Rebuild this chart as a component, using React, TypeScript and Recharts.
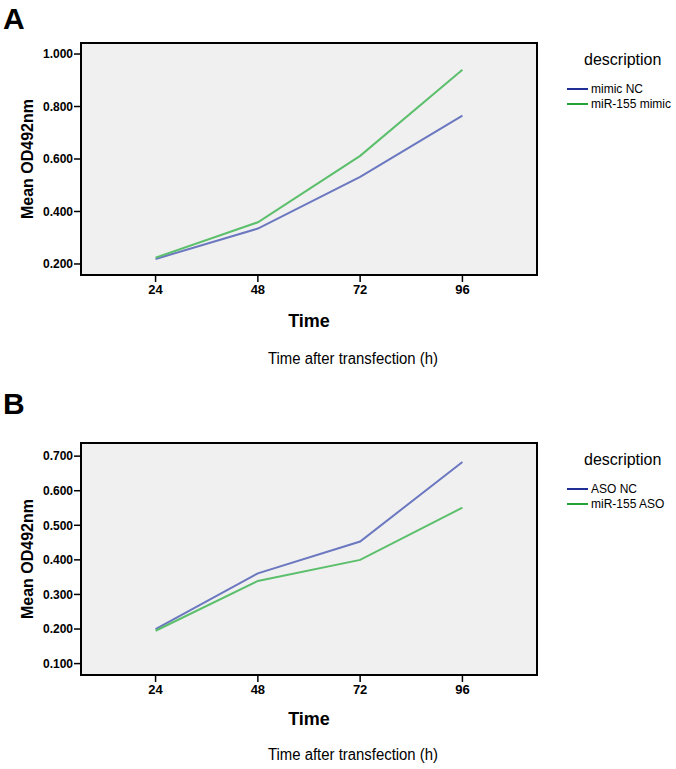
import React from "react";
import { LineChart, Line, XAxis, YAxis, ReferenceArea } from "recharts";

const times = [24, 48, 72, 96];
const mimicNC = [0.219, 0.335, 0.532, 0.765];
const mimic155 = [0.224, 0.359, 0.612, 0.94];
const asoNC = [0.2, 0.361, 0.453, 0.683];
const aso155 = [0.195, 0.339, 0.4, 0.551];
const ticksA = [0.2, 0.4, 0.6, 0.8, 1.0];
const ticksB = [0.1, 0.2, 0.3, 0.4, 0.5, 0.6, 0.7];

const lineBlue = "#6b78c0";
const lineGreen = "#5cbf6c";
const keyBlue = "#1f2f96";
const keyGreen = "#23a23a";
const sans = "'Liberation Sans', Arial, sans-serif";
const xDomain: [number, number] = [6.5, 113.5];

interface panelProps {
  letter: string;
  names: [string, string];
  a: number[];
  b: number[];
  ticks: number[];
  domain: [number, number];
  height: number;
  top: number;
  bottom: number;
  timeY: number;
  subY: number;
}

function Panel(props: panelProps) {
  const { letter, names, a, b, ticks, domain, height, top, bottom, timeY, subY } = props;
  const data = times.map((t, i) => ({ time: t, a: a[i], b: b[i] }));

  const yLabel = (p: any) => {
    const vb = p.viewBox;
    const cx = vb.x + 27;
    const cy = vb.y + vb.height / 2;
    return (
      <text
        x={cx}
        y={cy}
        transform={`rotate(-90 ${cx} ${cy})`}
        textAnchor="middle"
        dominantBaseline="central"
        fontFamily={sans}
        fontWeight="bold"
        fontSize={16}
        fill="#000"
      >
        Mean OD492nm
      </text>
    );
  };

  const xLabel = (p: any) => {
    const vb = p.viewBox;
    const cx = vb.x + vb.width / 2;
    return (
      <g>
        <text
          x={cx}
          y={vb.y + timeY}
          textAnchor="middle"
          dominantBaseline="central"
          fontFamily={sans}
          fontWeight="bold"
          fontSize={18}
          fill="#000"
        >
          Time
        </text>
        <text
          x={cx + 44}
          y={vb.y + subY}
          textAnchor="middle"
          dominantBaseline="central"
          fontFamily={sans}
          fontSize={16}
          textLength={170}
          lengthAdjust="spacingAndGlyphs"
          fill="#000"
        >
          Time after transfection (h)
        </text>
      </g>
    );
  };

  const axisStroke = { stroke: "#000", strokeWidth: 2 };

  return (
    <div style={{ position: "relative", width: 676, height }}>
      <div
        style={{
          position: "absolute",
          left: 3,
          top: 2,
          fontFamily: sans,
          fontWeight: "bold",
          fontSize: 30,
          lineHeight: "34px",
        }}
      >
        {letter}
      </div>
      <LineChart
        width={676}
        height={height}
        data={data}
        margin={{ top, right: 139, left: 0, bottom }}
      >
        <ReferenceArea
          x1={xDomain[0]}
          x2={xDomain[1]}
          y1={domain[0]}
          y2={domain[1]}
          fill="#f0f0f0"
          fillOpacity={1}
          stroke="#000"
          strokeWidth={2}
        />
        <XAxis
          dataKey="time"
          type="number"
          domain={xDomain}
          ticks={times}
          allowDataOverflow
          height={30}
          axisLine={axisStroke}
          tickLine={{ stroke: "#000", strokeWidth: 1.5 }}
          tickSize={7}
          tickMargin={3}
          tick={{ fill: "#000", fontFamily: sans, fontWeight: "bold", fontSize: 13 }}
          label={xLabel}
        />
        <YAxis
          width={81}
          type="number"
          domain={domain}
          ticks={ticks}
          allowDataOverflow
          tickFormatter={(v: number) => v.toFixed(3)}
          axisLine={axisStroke}
          tickLine={{ stroke: "#000", strokeWidth: 1.5 }}
          tickSize={7}
          tickMargin={1}
          tick={{ fill: "#000", fontFamily: sans, fontWeight: "bold", fontSize: 12 }}
          label={yLabel}
        />
        <Line
          type="linear"
          dataKey="a"
          stroke={lineBlue}
          strokeWidth={2}
          dot={false}
          activeDot={false}
          isAnimationActive={false}
        />
        <Line
          type="linear"
          dataKey="b"
          stroke={lineGreen}
          strokeWidth={2}
          dot={false}
          activeDot={false}
          isAnimationActive={false}
        />
      </LineChart>
      <div
        style={{
          position: "absolute",
          left: 567,
          top: top + 8,
          fontFamily: sans,
          color: "#000",
          whiteSpace: "nowrap",
        }}
      >
        <div style={{ fontSize: 16, lineHeight: "18px", marginLeft: 17, marginBottom: 12 }}>description</div>
        {[
          [names[0], keyBlue],
          [names[1], keyGreen],
        ].map(([n, c]) => (
          <div key={n} style={{ display: "flex", alignItems: "center", height: 15, fontSize: 12 }}>
            <span style={{ width: 21, height: 2, background: c, marginRight: 3 }} />
            <span>{n}</span>
          </div>
        ))}
      </div>
    </div>
  );
}

export default function App() {
  return (
    <div style={{ position: "absolute", left: 0, top: 0, width: 676, height: 769, background: "#fff" }}>
      <Panel
        letter="A"
        names={["mimic NC", "miR-155 mimic"]}
        a={mimicNC}
        b={mimic155}
        ticks={ticksA}
        domain={[0.158, 1.042]}
        height={385}
        top={43}
        bottom={80}
        timeY={46}
        subY={83}
      />
      <Panel
        letter="B"
        names={["ASO NC", "miR-155 ASO"]}
        a={asoNC}
        b={aso155}
        ticks={ticksB}
        domain={[0.067, 0.738]}
        height={384}
        top={58}
        bottom={64}
        timeY={44}
        subY={79}
      />
    </div>
  );
}
